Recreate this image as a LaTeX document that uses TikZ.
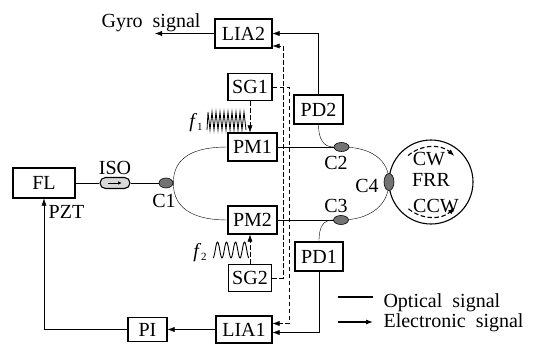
\documentclass[tikz,border=0pt]{standalone}
\usepackage{fontspec}
\setmainfont{Liberation Serif}
\usetikzlibrary{arrows.meta,shapes.geometric,backgrounds,calc}
\begin{document}
\begin{tikzpicture}[x=1pt,y=-1pt,
  font=\fontsize{20}{24}\selectfont,
  line width=1.1pt,
  box/.style={draw,fill=white,inner sep=0pt},
  cpl/.style={ellipse,draw,line width=0.6pt,fill=black!55,inner sep=0pt},
  arr/.style={-{Latex[length=7pt,width=5pt]}},
  dsh/.style={dash pattern=on 4.5pt off 2.5pt},
  lbl/.style={inner sep=0pt,anchor=base}]
\useasboundingbox (0,0) rectangle (533,343);
% boxes
\node[box,minimum width=57pt,minimum height=29pt] (lia2) at (243.5,33.5) {LIA2};
\node[box,minimum width=44pt,minimum height=27pt] (sg1) at (250,87) {SG1};
\node[box,minimum width=49pt,minimum height=28pt] (pm1) at (252.5,147) {PM1};
\node[box,minimum width=49pt,minimum height=28pt] (pm2) at (252.5,220) {PM2};
\node[box,minimum width=43pt,minimum height=27pt] (sg2) at (250,278) {SG2};
\node[box,minimum width=56pt,minimum height=27pt] (lia1) at (244,329.5) {LIA1};
\node[box,minimum width=39pt,minimum height=24pt] (pi) at (147.5,329.5) {PI};
\node[box,minimum width=62pt,minimum height=30pt] (fl) at (44,183) {FL};
\node[box,minimum width=49pt,minimum height=29pt] (pd2) at (318.5,109.5) {PD2};
\node[box,minimum width=48pt,minimum height=29pt] (pd1) at (319,256.5) {PD1};
\node[draw,rounded corners=5.5pt,fill=black!15,minimum width=30pt,minimum height=11pt,inner sep=0pt] (iso) at (115,183) {};
\draw[-{Latex[length=4pt,width=3.5pt]},line width=0.8pt] ([xshift=-7pt]iso.center) -- ([xshift=7pt]iso.center);
% ring
\node[circle,draw,minimum size=84pt,inner sep=0pt] (frr) at (431,182) {};
% couplers
\node[cpl,minimum width=14pt,minimum height=10pt] (c1) at (166,183) {};
\node[cpl,minimum width=15pt,minimum height=9pt] (c2) at (341.5,147) {};
\node[cpl,minimum width=15pt,minimum height=9pt] (c3) at (341,220) {};
\node[cpl,minimum width=10pt,minimum height=17pt] (c4) at (389,182) {};
% labels
\node[lbl] (tgyro) at (151,27) {Gyro\ \ signal};
\node[lbl] (tiso) at (115,174) {ISO};
\node[lbl] (tc1) at (164,207) {C1};
\node[lbl] (tpzt) at (66.5,218) {PZT};
\node[lbl] (tc2) at (336,169) {C2};
\node[lbl] (tc3) at (336,212) {C3};
\node[lbl] (tc4) at (367,192) {C4};
\node[lbl] (tcw) at (429,165) {CW};
\node[lbl] (tfrr) at (431,186) {FRR};
\node[lbl] (tccw) at (436,212) {CCW};
\node[lbl] (tf1) at (196,127) {\itshape f\/\raisebox{-3pt}{\fontsize{11}{11}\selectfont\upshape 1}};
\node[lbl] (tf2) at (200,257) {\itshape f\/\raisebox{-3pt}{\fontsize{11}{11}\selectfont\upshape 2}};
\node[inner sep=0pt,anchor=base west] (topt) at (383,307) {Optical\ \ signal};
\node[inner sep=0pt,anchor=base west] (telec) at (383,327) {Electronic\ \ signal};
% coordinates
\coordinate (gy) at (155,33.5);
\coordinate (v1) at (289,0);
\coordinate (v2) at (283,0);
\coordinate (lia2d) at ([yshift=-12.5pt]lia2.east);
\coordinate (lia1d) at ([yshift=6pt]lia1.east);
\coordinate (lia1s) at ([yshift=-3pt]lia1.east);
\coordinate (lo1) at (338,297);
\coordinate (lo2) at (373,297);
\coordinate (le1) at (338,322);
\coordinate (le2) at (373,322);
% modulation waves
\draw[line width=0.8pt] (207,130) \foreach \i in {0,...,9} { -- ({208+4*\i},112) -- ({210+4*\i},130) };
\draw[line width=0.9pt] plot[domain=0:36,samples=120] ({213+\x},{250+8*cos(\x*40)});
\begin{scope}[on background layer]
% optical
\draw (fl.east) -- (iso.west);
\draw (iso.east) -- (c1.west);
\draw (c1.east) .. controls +(0,-28) and +(-30,0) .. (pm1.west);
\draw (c1.east) .. controls +(0,28) and +(-30,0) .. (pm2.west);
\draw (pm1.east) -- (c2.center);
\draw (pm2.east) -- (c3.center);
\draw (pd2.south) .. controls +(0,15) and +(-10,0) .. (c2.west);
\draw (pd1.north) .. controls +(0,-15) and +(-10,0) .. (c3.west);
\draw (c2.center) .. controls +(30,0) and +(0,-22) .. (c4.center);
\draw (c3.center) .. controls +(30,0) and +(0,22) .. (c4.center);
% electronic
\draw[arr] (lia2.west) -- (gy);
\draw[arr] (pd2.north) |- (lia2.east);
\draw[arr] (pd1.south) |- (lia1s);
\draw[arr] (lia1.west) -- (pi.east);
\draw[arr] (pi.west) -| (fl.south);
\draw[arr,dsh] (sg1.south) -- (sg1.south |- pm1.north);
\draw[arr,dsh] (sg2.north) -- (sg2.north |- pm2.south);
\draw[arr,dsh] (sg1.east) -- (sg1.east -| v1) -- (v1 |- lia1d) -- (lia1d);
\draw[arr,dsh] (sg2.east) -- (sg2.east -| v2) -- (v2 |- lia2d) -- (lia2d);
\end{scope}
% ring direction arrows
\draw[arr,dsh] ($(frr.center)+(-131:35)$) arc[start angle=-131,end angle=-48,radius=35];
\draw[arr,dsh] ($(frr.center)+(130:35)$) arc[start angle=130,end angle=47,radius=35];
% legend
\draw (lo1) -- (lo2);
\draw[arr] (le1) -- (le2);
\end{tikzpicture}
\end{document}
